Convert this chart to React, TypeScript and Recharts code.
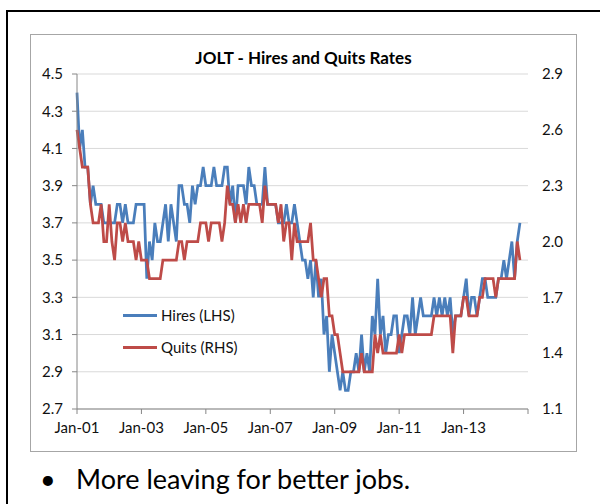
import React from "react";
import { LineChart, Line, XAxis, YAxis, CartesianGrid, Legend } from "recharts";

// JOLTS monthly rates, Jan 2001 .. Oct 2014
const hiresRate = [
  4.4, 4.1, 4.2, 4.0, 4.0, 3.8, 3.9, 3.8, 3.8, 3.8, 3.7, 3.7, // 2001
  3.7, 3.7, 3.7, 3.8, 3.8, 3.7, 3.8, 3.7, 3.7, 3.7, 3.8, 3.8, // 2002
  3.8, 3.8, 3.4, 3.6, 3.5, 3.7, 3.6, 3.6, 3.7, 3.8, 3.6, 3.8, // 2003
  3.7, 3.6, 3.9, 3.9, 3.8, 3.8, 3.7, 3.9, 3.8, 3.9, 3.9, 4.0, // 2004
  3.9, 3.9, 3.9, 4.0, 3.9, 3.9, 3.9, 4.0, 4.0, 3.8, 3.9, 3.7, // 2005
  3.9, 3.9, 3.9, 3.8, 4.0, 3.9, 3.9, 3.8, 3.8, 3.8, 4.0, 3.8, // 2006
  3.8, 3.8, 3.8, 3.7, 3.7, 3.7, 3.8, 3.7, 3.7, 3.8, 3.7, 3.6, // 2007
  3.5, 3.5, 3.4, 3.5, 3.3, 3.5, 3.3, 3.4, 3.1, 3.2, 2.9, 3.1, // 2008
  3.0, 2.9, 2.8, 2.9, 2.8, 2.8, 2.9, 2.9, 3.0, 2.9, 3.1, 2.9, // 2009
  3.0, 2.9, 3.2, 3.1, 3.4, 3.1, 3.2, 3.0, 3.1, 3.1, 3.2, 3.2, // 2010
  3.0, 3.1, 3.2, 3.2, 3.1, 3.3, 3.1, 3.2, 3.3, 3.2, 3.2, 3.2, // 2011
  3.2, 3.3, 3.2, 3.3, 3.2, 3.3, 3.2, 3.3, 3.1, 3.2, 3.2, 3.2, // 2012
  3.3, 3.4, 3.2, 3.3, 3.3, 3.2, 3.3, 3.4, 3.4, 3.3, 3.3, 3.3, // 2013
  3.3, 3.4, 3.4, 3.5, 3.4, 3.5, 3.6, 3.4, 3.6, 3.7, // 2014
];

const quitsRate = [
  2.6, 2.5, 2.4, 2.4, 2.4, 2.2, 2.1, 2.1, 2.1, 2.2, 2.0, 2.0, // 2001
  2.2, 2.0, 1.9, 2.1, 2.1, 2.0, 2.1, 2.0, 2.0, 2.0, 1.9, 2.0, // 2002
  1.9, 1.9, 1.9, 1.8, 1.8, 1.8, 1.8, 1.8, 1.9, 1.9, 1.9, 1.9, // 2003
  1.9, 1.9, 2.0, 2.0, 1.9, 2.0, 2.0, 2.0, 2.0, 2.0, 2.1, 2.1, // 2004
  2.1, 2.0, 2.1, 2.1, 2.1, 2.1, 2.0, 2.1, 2.3, 2.2, 2.2, 2.1, // 2005
  2.2, 2.1, 2.2, 2.1, 2.2, 2.2, 2.2, 2.2, 2.2, 2.1, 2.3, 2.2, // 2006
  2.2, 2.2, 2.2, 2.1, 2.2, 2.0, 2.1, 2.1, 1.9, 2.1, 2.0, 2.0, // 2007
  2.0, 2.0, 2.0, 2.1, 1.9, 1.9, 1.8, 1.7, 1.8, 1.8, 1.6, 1.6, // 2008
  1.5, 1.5, 1.4, 1.3, 1.3, 1.3, 1.3, 1.3, 1.3, 1.3, 1.4, 1.3, // 2009
  1.3, 1.3, 1.3, 1.5, 1.4, 1.5, 1.4, 1.4, 1.4, 1.4, 1.4, 1.4, // 2010
  1.5, 1.4, 1.5, 1.5, 1.5, 1.5, 1.5, 1.5, 1.5, 1.5, 1.5, 1.5, // 2011
  1.5, 1.6, 1.6, 1.6, 1.6, 1.6, 1.6, 1.6, 1.4, 1.6, 1.6, 1.6, // 2012
  1.7, 1.7, 1.6, 1.6, 1.6, 1.6, 1.7, 1.7, 1.8, 1.8, 1.8, 1.8, // 2013
  1.7, 1.8, 1.8, 1.8, 1.8, 1.8, 1.8, 1.8, 2.0, 1.9, // 2014
];

const monthTicks = [0, 24, 48, 72, 96, 120, 144, 168];
const monthTickLabels = ["Jan-01", "Jan-03", "Jan-05", "Jan-07", "Jan-09", "Jan-11", "Jan-13", ""];
const hiresTicks = [2.7, 2.9, 3.1, 3.3, 3.5, 3.7, 3.9, 4.1, 4.3, 4.5];
const quitsTicks = [1.1, 1.4, 1.7, 2.0, 2.3, 2.6, 2.9];

const data = hiresRate.map((h, i) => ({ month: i, hires: h, quits: quitsRate[i] }));

const FONT = "Lato, 'Open Sans', sans-serif";
const BLUE = "#4a7ebb";
const RED = "#be4b48";
const AXIS = "#868686";

const legendItems = [
  { label: "Hires (LHS)", color: BLUE },
  { label: "Quits (RHS)", color: RED },
];

const LegendBox = () => (
  <div style={{ fontFamily: FONT, fontSize: 15, color: "#111" }}>
    {legendItems.map((it) => (
      <div key={it.label} style={{ display: "flex", alignItems: "center", height: 32 }}>
        <span style={{ display: "inline-block", width: 34, height: 3, background: it.color, marginRight: 4 }} />
        <span>{it.label}</span>
      </div>
    ))}
  </div>
);

const tickStyle = { fill: "#111", fontSize: 15, fontFamily: FONT };

export default function App() {
  return (
    <div style={{ position: "absolute", left: 0, top: 0, width: 600, height: 504, overflow: "hidden", background: "#fff" }}>
      {/* slide frame */}
      <div style={{ position: "absolute", left: 6, top: 10, width: 700, height: 600, border: "2.5px solid #000" }} />
      {/* chart box */}
      <div style={{ position: "absolute", left: 30, top: 34, width: 547, height: 418, border: "1.5px solid #a6a6a6", boxSizing: "border-box" }} />
      <div style={{ position: "absolute", left: 30, width: 547, top: 47, textAlign: "center", fontFamily: FONT, fontWeight: 700, fontSize: 17, color: "#000" }}>
        JOLT - Hires and Quits Rates
      </div>
      <div style={{ position: "absolute", left: 0, top: 0 }}>
        <LineChart width={600} height={504} data={data} margin={{ top: 74, right: 0, bottom: 0, left: 0 }}>
          <CartesianGrid yAxisId="left" vertical={false} stroke="#d9d9d9" />
          <XAxis
            dataKey="month"
            type="number"
            domain={[0, 168]}
            ticks={monthTicks}
            interval={0}
            tickFormatter={(v) => monthTickLabels[monthTicks.indexOf(v)]}
            height={95}
            stroke={AXIS}
            tickSize={5}
            tickMargin={8}
            tick={tickStyle}
          />
          <YAxis
            yAxisId="left"
            domain={[2.7, 4.5]}
            ticks={hiresTicks}
            interval={0}
            tickFormatter={(v) => v.toFixed(1)}
            width={77}
            stroke={AXIS}
            tickSize={5}
            tickMargin={9}
            tick={tickStyle}
          />
          <YAxis
            yAxisId="right"
            orientation="right"
            domain={[1.1, 2.9]}
            ticks={quitsTicks}
            interval={0}
            tickFormatter={(v) => v.toFixed(1)}
            width={72}
            axisLine={false}
            tickLine={false}
            tickSize={0}
            tickMargin={14}
            tick={tickStyle}
          />
          <Legend
            layout="vertical"
            align="center"
            verticalAlign="middle"
            content={LegendBox}
            wrapperStyle={{ left: 123, top: 299, width: "auto" }}
          />
          <Line yAxisId="left" type="linear" dataKey="hires" stroke={BLUE} strokeWidth={2.75} dot={false} isAnimationActive={false} />
          <Line yAxisId="right" type="linear" dataKey="quits" stroke={RED} strokeWidth={2.75} dot={false} isAnimationActive={false} />
        </LineChart>
      </div>
      <div style={{ position: "absolute", left: 40, top: 463, lineHeight: "32px", fontFamily: FONT, fontSize: 27, color: "#000" }}>
        •
      </div>
      <div style={{ position: "absolute", left: 76, top: 463, lineHeight: "32px", fontFamily: FONT, fontSize: 27, color: "#000" }}>
        More leaving for better jobs.
      </div>
    </div>
  );
}
